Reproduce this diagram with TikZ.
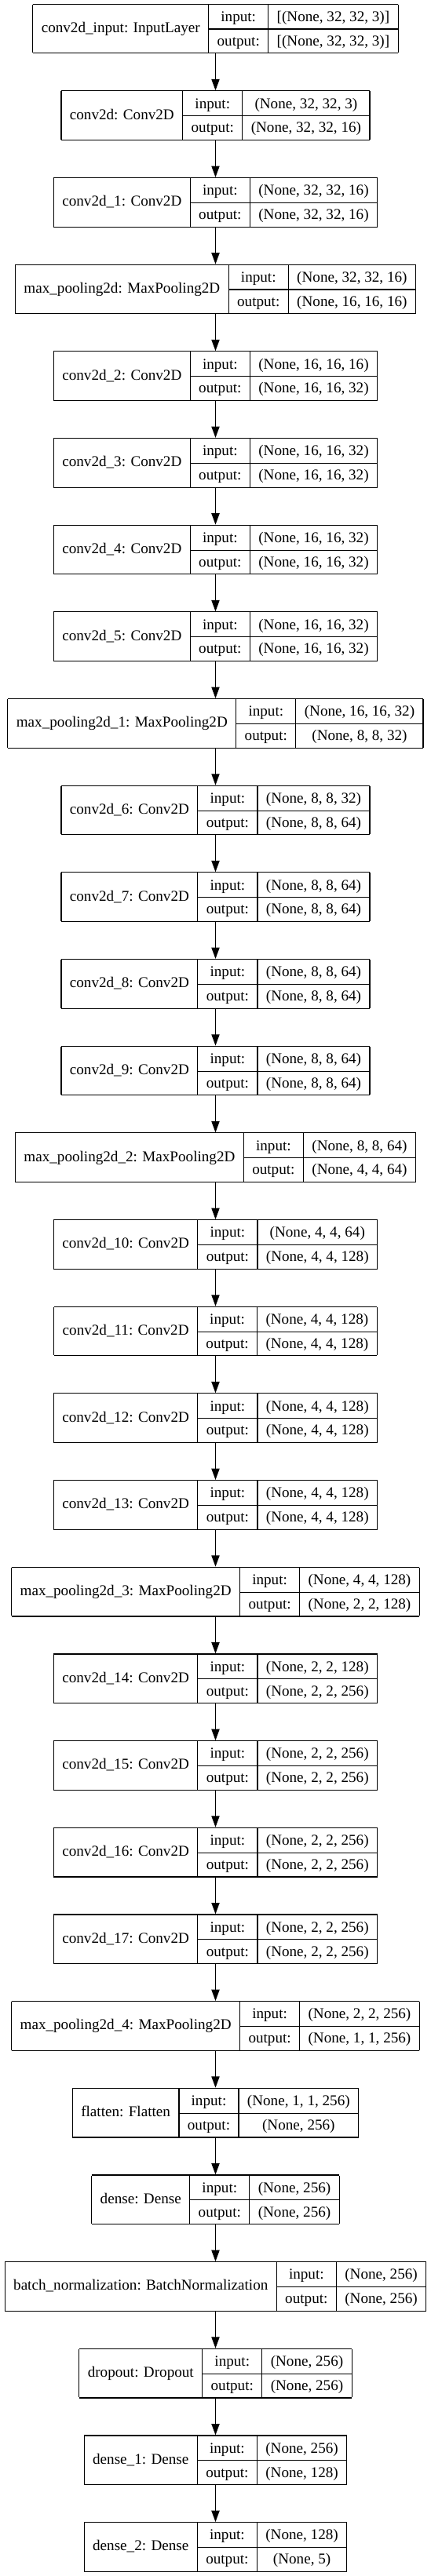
\documentclass[tikz,border=0pt]{standalone}
\usepackage{fontspec}
\setmainfont{Liberation Serif}
\usetikzlibrary{arrows.meta}
\newcommand\kfont{\fontsize{14pt}{16pt}\selectfont}
\newcommand\krow{\rule[-6.6pt]{0pt}{22.5pt}}
\newcommand\klayer[5]{%
  \node[rec] (#1) at (200.8pt,{-(26.67+#2*80.96)*1pt}) {%
    \setlength\tabcolsep{8pt}\setlength\arrayrulewidth{0.85pt}\renewcommand\arraystretch{1}%
    \begin{tabular}{|c|c|c|}\hline
    \krow\raisebox{-10.2pt}[0pt][0pt]{#3} & input: & #4 \\ \cline{2-3}
    \krow & output: & #5 \\ \hline
    \end{tabular}};
}
\tikzset{
  rec/.style={inner sep=0, outer sep=0, font=\kfont, text=black},
  arr/.style={line width=0.85pt, -{Triangle[length=10.5pt,width=7.5pt]}}
}
\begin{document}
\begin{tikzpicture}
\fill[white] (0,0) rectangle (401.6pt,-2401.6pt);
\useasboundingbox (0,0) rectangle (401.6pt,-2401.6pt);
\klayer{n0}{0}{conv2d\_input: InputLayer}{[(None, 32, 32, 3)]}{[(None, 32, 32, 3)]}
\klayer{n1}{1}{conv2d: Conv2D}{(None, 32, 32, 3)}{(None, 32, 32, 16)}
\klayer{n2}{2}{conv2d\_1: Conv2D}{(None, 32, 32, 16)}{(None, 32, 32, 16)}
\klayer{n3}{3}{max\_pooling2d: MaxPooling2D}{(None, 32, 32, 16)}{(None, 16, 16, 16)}
\klayer{n4}{4}{conv2d\_2: Conv2D}{(None, 16, 16, 16)}{(None, 16, 16, 32)}
\klayer{n5}{5}{conv2d\_3: Conv2D}{(None, 16, 16, 32)}{(None, 16, 16, 32)}
\klayer{n6}{6}{conv2d\_4: Conv2D}{(None, 16, 16, 32)}{(None, 16, 16, 32)}
\klayer{n7}{7}{conv2d\_5: Conv2D}{(None, 16, 16, 32)}{(None, 16, 16, 32)}
\klayer{n8}{8}{max\_pooling2d\_1: MaxPooling2D}{(None, 16, 16, 32)}{(None, 8, 8, 32)}
\klayer{n9}{9}{conv2d\_6: Conv2D}{(None, 8, 8, 32)}{(None, 8, 8, 64)}
\klayer{n10}{10}{conv2d\_7: Conv2D}{(None, 8, 8, 64)}{(None, 8, 8, 64)}
\klayer{n11}{11}{conv2d\_8: Conv2D}{(None, 8, 8, 64)}{(None, 8, 8, 64)}
\klayer{n12}{12}{conv2d\_9: Conv2D}{(None, 8, 8, 64)}{(None, 8, 8, 64)}
\klayer{n13}{13}{max\_pooling2d\_2: MaxPooling2D}{(None, 8, 8, 64)}{(None, 4, 4, 64)}
\klayer{n14}{14}{conv2d\_10: Conv2D}{(None, 4, 4, 64)}{(None, 4, 4, 128)}
\klayer{n15}{15}{conv2d\_11: Conv2D}{(None, 4, 4, 128)}{(None, 4, 4, 128)}
\klayer{n16}{16}{conv2d\_12: Conv2D}{(None, 4, 4, 128)}{(None, 4, 4, 128)}
\klayer{n17}{17}{conv2d\_13: Conv2D}{(None, 4, 4, 128)}{(None, 4, 4, 128)}
\klayer{n18}{18}{max\_pooling2d\_3: MaxPooling2D}{(None, 4, 4, 128)}{(None, 2, 2, 128)}
\klayer{n19}{19}{conv2d\_14: Conv2D}{(None, 2, 2, 128)}{(None, 2, 2, 256)}
\klayer{n20}{20}{conv2d\_15: Conv2D}{(None, 2, 2, 256)}{(None, 2, 2, 256)}
\klayer{n21}{21}{conv2d\_16: Conv2D}{(None, 2, 2, 256)}{(None, 2, 2, 256)}
\klayer{n22}{22}{conv2d\_17: Conv2D}{(None, 2, 2, 256)}{(None, 2, 2, 256)}
\klayer{n23}{23}{max\_pooling2d\_4: MaxPooling2D}{(None, 2, 2, 256)}{(None, 1, 1, 256)}
\klayer{n24}{24}{flatten: Flatten}{(None, 1, 1, 256)}{(None, 256)}
\klayer{n25}{25}{dense: Dense}{(None, 256)}{(None, 256)}
\klayer{n26}{26}{batch\_normalization: BatchNormalization}{(None, 256)}{(None, 256)}
\klayer{n27}{27}{dropout: Dropout}{(None, 256)}{(None, 256)}
\klayer{n28}{28}{dense\_1: Dense}{(None, 256)}{(None, 128)}
\klayer{n29}{29}{dense\_2: Dense}{(None, 128)}{(None, 5)}
\foreach \i [evaluate=\i as \j using int(\i+1)] in {0,...,28}
  \draw[arr] (n\i.south) -- (n\j.north);
\end{tikzpicture}
\end{document}
